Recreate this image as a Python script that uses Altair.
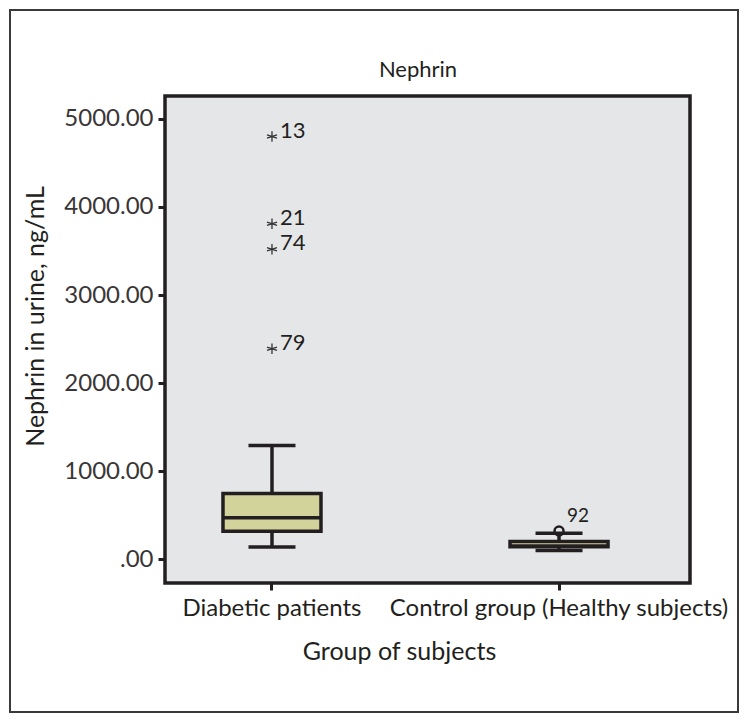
import altair as alt
import pandas as pd

# ---- data ----
groups = ["Diabetic patients", "Control group (Healthy subjects)"]
lower_whisker = [140, 100]
q1 = [318, 142]
median = [472, 150]
q3 = [745, 200]
upper_whisker = [1290, 295]

outlier_group = ["Diabetic patients", "Diabetic patients", "Diabetic patients",
                 "Diabetic patients", "Control group (Healthy subjects)"]
outlier_value = [4800, 3810, 3520, 2390, 320]
outlier_case = ["13", "21", "74", "79", "92"]
outlier_kind = ["extreme", "extreme", "extreme", "extreme", "outlier"]

y_ticks = [0, 1000, 2000, 3000, 4000, 5000]
chart_title = "Nephrin"

DARK = "#231f20"
BOX = "#d2d29b"
BG = "#e5e6e8"
FONT = "Lato"

box_df = pd.DataFrame({
    "group": groups, "lo": lower_whisker, "q1": q1, "med": median,
    "q3": q3, "hi": upper_whisker,
})
out_df = pd.DataFrame({
    "group": outlier_group, "value": outlier_value,
    "case": outlier_case, "kind": outlier_kind,
})

xscale = alt.Scale(domain=groups, paddingInner=0.5, paddingOuter=0.1645, align=0.373)
yscale = alt.Scale(domain=[-270, 5260], nice=False, zero=False)

xaxis = alt.Axis(
    title="Group of subjects", labelAngle=0, labelFontSize=24, labelFont=FONT,
    labelColor=DARK, labelPadding=6, labelLimit=0, titleFontSize=25, titleFont=FONT,
    titleFontWeight="normal", titleColor=DARK, titleX=234, titleY=68,
    titleAlign="center", titleBaseline="middle",
)
yaxis = alt.Axis(
    title="Nephrin in urine, ng/mL", values=y_ticks,
    labelExpr="datum.value == 0 ? '.00' : format(datum.value, '.2f')",
    labelFontSize=24, labelFont=FONT, labelColor="#3a3536", labelPadding=5,
    titleFontSize=25, titleFont=FONT, titleFontWeight="normal", titleColor=DARK,
    titleX=-130, titleY=220, titleAlign="center", titleBaseline="middle",
)


def X():
    return alt.X("group:N", scale=xscale, axis=xaxis, sort=groups)


def Y(field):
    return alt.Y(f"{field}:Q", scale=yscale, axis=yaxis)


base = alt.Chart(box_df)

whisk_hi = base.mark_rule(color=DARK, strokeWidth=3.5).encode(
    x=X(), y=Y("q3"), y2="hi:Q")
whisk_lo = base.mark_rule(color=DARK, strokeWidth=3.5).encode(
    x=X(), y=Y("lo"), y2="q1:Q")

circ = alt.Chart(out_df).transform_filter(alt.datum.kind == "outlier").mark_point(
    shape="circle", size=80, filled=True, fill=BG, stroke=DARK, strokeWidth=2.5, opacity=1
).encode(x=X(), y=Y("value"))

box = base.mark_bar(size=98, fill=BOX, stroke=DARK, strokeWidth=3.5).encode(
    x=X(), y=Y("q1"), y2="q3:Q")
med = base.mark_tick(size=98, thickness=3.5, color=DARK, opacity=1).encode(
    x=X(), y=Y("med"))
cap_hi = base.mark_tick(size=47, thickness=3.5, color=DARK, opacity=1).encode(
    x=X(), y=Y("hi"))
cap_lo = base.mark_tick(size=47, thickness=3.5, color=DARK, opacity=1).encode(
    x=X(), y=Y("lo"))

ASTERISK = "M0,-1L0,1M-0.95,-0.31L0.95,0.31M-0.95,0.31L0.95,-0.31"
ext = alt.Chart(out_df).transform_filter(alt.datum.kind == "extreme").mark_point(
    shape=ASTERISK, size=110, filled=False, stroke="#333", strokeWidth=1.3, opacity=1
).encode(x=X(), y=Y("value"))

ext_lab = alt.Chart(out_df).transform_filter(alt.datum.kind == "extreme").mark_text(
    align="left", baseline="middle", dx=8, dy=-6, fontSize=22, font=FONT, color=DARK
).encode(x=X(), y=Y("value"), text="case:N")

out_lab = alt.Chart(out_df).transform_filter(alt.datum.kind == "outlier").mark_text(
    align="left", baseline="middle", dx=8, dy=-15, fontSize=19, font=FONT, color=DARK
).encode(x=X(), y=Y("value"), text="case:N")

title_txt = alt.Chart(pd.DataFrame({"t": [chart_title]})).mark_text(
    align="center", baseline="middle", fontSize=22, font=FONT, color=DARK
).encode(x=alt.value(253), y=alt.value(-26), text="t:N")

border = alt.Chart(pd.DataFrame({"a": [0]})).mark_rect(
    fillOpacity=0, stroke="#3a3a3a", strokeWidth=2
).encode(x=alt.value(-155), x2=alt.value(573), y=alt.value(-86), y2=alt.value(616))

chart = alt.layer(
    border, title_txt, whisk_hi, whisk_lo, circ, box, med, cap_hi, cap_lo,
    ext, ext_lab, out_lab
).properties(
    width=525, height=487,
    autosize=alt.AutoSizeParams(type="none"),
    padding={"left": 157, "top": 88, "right": 50, "bottom": 132},
).configure_view(
    fill=BG, stroke=DARK, strokeWidth=3.5
).configure_axis(
    domain=False, grid=False, tickColor=DARK, tickWidth=3, tickSize=7
)

chart.save("out.html", embed_options={"renderer": "svg", "actions": False})
